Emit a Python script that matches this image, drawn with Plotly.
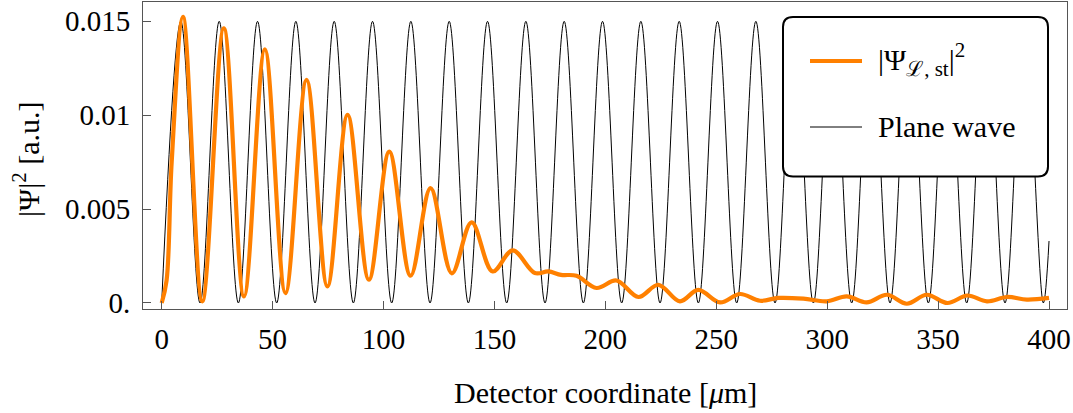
import plotly.graph_objects as go

# ---------------- data ----------------
# Plane wave: extrema positions (µm) and values
plane_x = [0, 8.64, 17.28, 25.92, 34.56, 43.2, 51.84, 60.48, 69.12, 77.76, 86.4, 95.04,
           103.68, 112.32, 120.96, 129.6, 138.24, 146.88, 155.52, 164.16, 172.8, 181.44,
           190.08, 198.72, 207.36, 216.0, 224.64, 233.28, 241.92, 250.56, 259.2, 267.84,
           276.48, 285.12, 293.76, 302.4, 311.04, 319.68, 328.32, 336.96, 345.6, 354.24,
           362.88, 371.52, 380.16, 388.8, 397.44, 400]
plane_y = [0, 0.015, 0, 0.015, 0, 0.015, 0, 0.015, 0, 0.015, 0, 0.015,
           0, 0.015, 0, 0.015, 0, 0.015, 0, 0.015, 0, 0.015,
           0, 0.015, 0, 0.015, 0, 0.015, 0, 0.015, 0, 0.015,
           0, 0.015, 0, 0.015, 0, 0.015, 0, 0.015, 0, 0.015,
           0, 0.015, 0, 0.015, 0, 0.0033]

# |Psi_L,st|^2 : positions (µm) and values (mostly extrema)
psi_x = [0, 2.2, 4.5, 9.6, 18.3, 28.0, 37.1, 46.5, 55.8, 65.3, 74.7, 83.8, 93.4, 102.6, 112.2,
         121.2, 130.8, 139.7, 149.2, 158.2, 168.2, 174.3, 180, 187, 196, 205, 214.9,
         223.9, 233.6, 241.9, 251.7, 260.7, 269.7, 278, 289.3, 299.8, 308.8, 317.8,
         326.9, 335.9, 344.9, 354.2, 363.2, 372, 381, 390, 400]
psi_y = [0, 0.0012, 0.0075, 0.01524, 0.00009, 0.01463, 0.00035, 0.01351, 0.00053, 0.01188, 0.00088,
         0.01002, 0.00124, 0.00806, 0.00145, 0.00612, 0.00158, 0.00429, 0.00168, 0.0028,
         0.0016, 0.00168, 0.0015, 0.00145, 0.0008, 0.0012, 0.00032, 0.00097, 0.00009,
         0.0007, 0.00003, 0.00048, 0.00012, 0.00027, 0.00023, 0.00009, 0.00035, 0.00003,
         0.00044, -0.00004, 0.00044, 0.0, 0.0004, 0.00009, 0.00032, 0.00018, 0.00027]

x_ticks = [0, 50, 100, 150, 200, 250, 300, 350, 400]
y_ticks = [0, 0.005, 0.01, 0.015]
y_tick_labels = ["0.", "0.005", "0.01", "0.015"]

legend_labels = ["|Ψ<sub>ℒ, st</sub>|<sup>2</sup>", "Plane wave"]
x_title = "Detector coordinate [<i>μ</i>m]"
y_title = "|Ψ|<sup>2</sup> [a.u.]"

ORANGE = "#FF8000"
FONT = "Liberation Serif"
FS_TICK = 29
FS_TEXT = 30

W, H = 1073, 413
ML, MR, MT, MB = 143, 6, 2, 104
PW, PH = W - ML - MR, H - MT - MB


def px(xp):
    return (xp - ML) / PW


def py(yp):
    return 1 - (yp - MT) / PH


fig = go.Figure()
fig.add_trace(go.Scatter(x=plane_x, y=plane_y, mode="lines", line=dict(color="black", width=1, shape="spline", smoothing=1.0), showlegend=False))
fig.add_trace(go.Scatter(x=psi_x, y=psi_y, mode="lines", line=dict(color=ORANGE, width=4.2, shape="spline", smoothing=1.0), showlegend=False))

axis_common = dict(showgrid=False, zeroline=False, showline=True, linecolor="#555", linewidth=1,
                   mirror=True, ticks="inside", ticklen=8, tickcolor="#555", tickwidth=1, automargin=False,
                   tickfont=dict(family=FONT, size=FS_TICK, color="black"))
fig.update_xaxes(range=[-8.43, 408.1], tickvals=x_ticks, ticklabelstandoff=4, **axis_common)
fig.update_yaxes(range=[-0.00032, 0.01603], tickvals=y_ticks, ticktext=y_tick_labels, ticklabelstandoff=6, **axis_common)

# legend box (rounded)
x0, x1 = px(783), px(1048)
y0, y1 = py(176.5), py(17)
rx, ry = 10 / PW, 10 / PH
path = (f"M {x0+rx},{y1} L {x1-rx},{y1} Q {x1},{y1} {x1},{y1-ry} L {x1},{y0+ry} "
        f"Q {x1},{y0} {x1-rx},{y0} L {x0+rx},{y0} Q {x0},{y0} {x0},{y0+ry} "
        f"L {x0},{y1-ry} Q {x0},{y1} {x0+rx},{y1} Z")
shapes = [dict(type="path", path=path, xref="paper", yref="paper", fillcolor="white",
               line=dict(color="black", width=2), layer="above")]
shapes.append(dict(type="line", xref="paper", yref="paper", x0=px(810), x1=px(862), y0=py(61), y1=py(61),
                   line=dict(color=ORANGE, width=4.2), layer="above"))
shapes.append(dict(type="line", xref="paper", yref="paper", x0=px(810), x1=px(862), y0=py(127), y1=py(127),
                   line=dict(color="black", width=1), layer="above"))

annotations = [
    dict(text=legend_labels[0], x=px(876), y=py(60), xref="paper", yref="paper", xanchor="left", yanchor="middle",
         showarrow=False, font=dict(family=FONT, size=FS_TEXT, color="black")),
    dict(text=legend_labels[1], x=px(876), y=py(127), xref="paper", yref="paper", xanchor="left", yanchor="middle",
         showarrow=False, font=dict(family=FONT, size=FS_TEXT, color="black")),
    dict(text=x_title, x=px(605), y=py(393), xref="paper", yref="paper", xanchor="center", yanchor="middle",
         showarrow=False, font=dict(family=FONT, size=FS_TEXT, color="black")),
    dict(text=y_title, x=px(26), y=py(160), xref="paper", yref="paper", xanchor="center", yanchor="middle",
         textangle=-90, showarrow=False, font=dict(family=FONT, size=FS_TEXT, color="black")),
]

fig.update_layout(width=W, height=H, margin=dict(l=ML, r=MR, t=MT, b=MB, autoexpand=False),
                  plot_bgcolor="white", paper_bgcolor="white", showlegend=False,
                  shapes=shapes, annotations=annotations,
                  font=dict(family=FONT, size=FS_TEXT, color="black"))

fig.write_html("out.html", config={"displayModeBar": False},
               post_script="document.body.style.margin='0';")
